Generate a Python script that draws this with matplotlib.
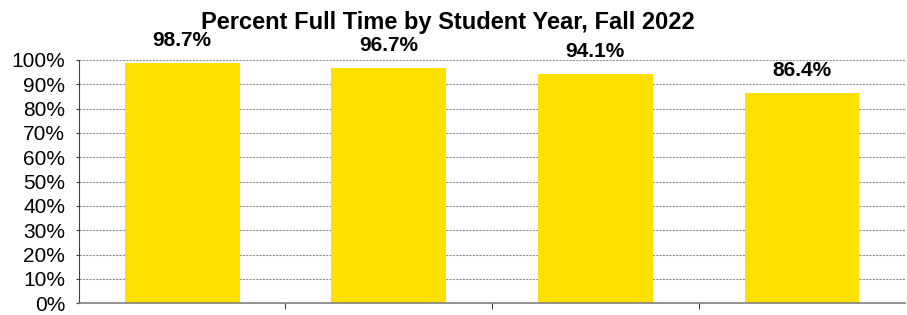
import numpy as np
import matplotlib.pyplot as plt

plt.rcParams['font.family'] = ['Liberation Sans', 'DejaVu Sans']

years = ['', '', '', '']
pct_full_time = [98.7, 96.7, 94.1, 86.4]

fig = plt.figure(figsize=(9.07, 3.15), dpi=100)
ax = fig.add_axes([0.087, 0.037, 0.911, 0.773])

x = np.arange(len(pct_full_time))
ax.bar(x, pct_full_time, width=0.555, color='#FFE000', zorder=2)
for xi, v in zip(x, pct_full_time):
    ax.text(xi, v + 9.3, f'{v:.1f}%', ha='center', va='center',
            fontsize=15, fontweight='bold')

ax.set_xlim(-0.5, len(x) - 0.5)
ax.set_ylim(0, 100)
ax.set_yticks(np.arange(0, 101, 10))
ax.set_yticklabels([f'{t}%' for t in range(0, 101, 10)], fontsize=15)
ax.set_xticks(np.arange(0.5, len(x) - 0.5, 1))
ax.set_xticklabels([])
ax.tick_params(axis='x', direction='out', length=4.5, color='#404040')
ax.tick_params(axis='y', direction='out', length=2.5, color='#404040', pad=7.5)
ax.yaxis.grid(True, linestyle=(0, (2, 1)), color='#909090', linewidth=0.8, zorder=0)

for s in ['top', 'right']:
    ax.spines[s].set_visible(False)
ax.spines['left'].set_color('#404040')
ax.spines['bottom'].set_color('#808080')
ax.spines['bottom'].set_linewidth(1.2)

fig.text(0.494, 0.93, 'Percent Full Time by Student Year, Fall 2022',
         ha='center', va='center', fontsize=17, fontweight='bold')

fig.savefig('out.png', dpi=100)
